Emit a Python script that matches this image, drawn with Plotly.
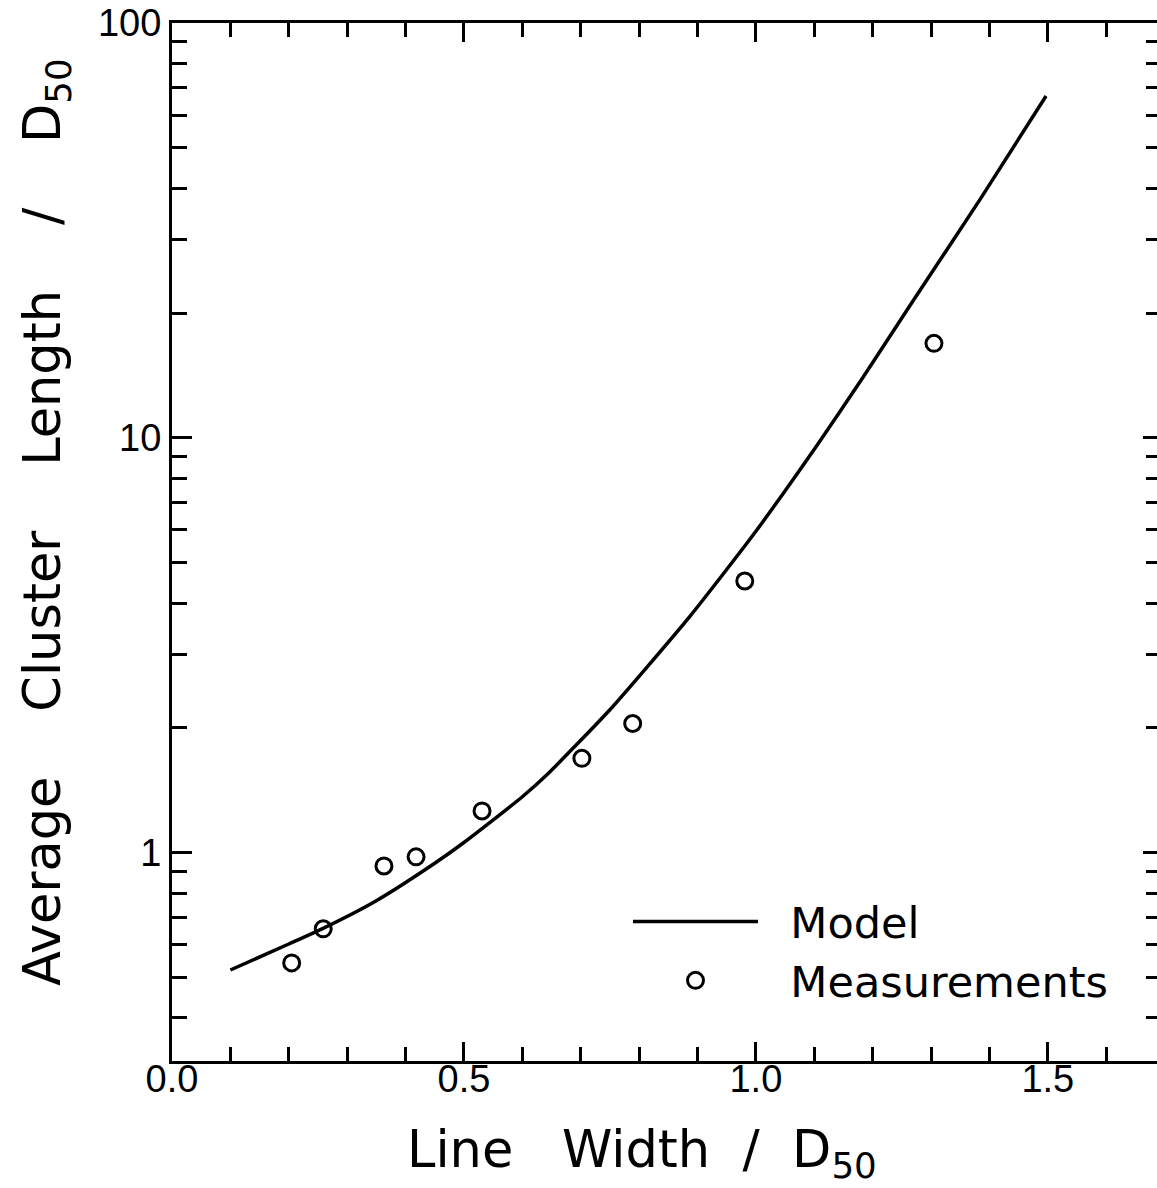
import math
import plotly.graph_objects as go

# Model curve
model_x = [0.10, 0.20, 0.257, 0.35, 0.45, 0.50, 0.60, 0.647, 0.75, 0.818, 0.887, 0.944, 1.0, 1.106, 1.183, 1.269, 1.384, 1.497]
model_y = [0.522, 0.603, 0.656, 0.767, 0.944, 1.059, 1.365, 1.567, 2.213, 2.851, 3.715, 4.699, 5.957, 9.66, 13.96, 21.38, 37.58, 66.68]

# Measurements
meas_x = [0.205, 0.259, 0.363, 0.418, 0.531, 0.702, 0.789, 0.981, 1.305]
meas_y = [0.543, 0.656, 0.93, 0.978, 1.262, 1.69, 2.05, 4.52, 16.9]

x_ticks = [0.0, 0.5, 1.0, 1.5]
x_ticktext = ["0.0", "0.5", "1.0", "1.5"]
y_ticks = [1, 10, 100]
y_ticktext = ["1", "10", "100"]

x_range = [0.0, 1.687]
y_range = [0.315, 100]

W, H = 1157, 1188
L, R, T, B = 172, 0, 23, 127
PW, PH = W - L - R, H - T - B

tick_font = dict(family="Liberation Sans, Arial, sans-serif", size=38, color="black")
title_font = dict(family="DejaVu Sans, sans-serif", size=51, color="black")
NB = "\u00a0"

fig = go.Figure()
fig.add_trace(go.Scatter(
    x=model_x, y=model_y, mode="lines", name=NB * 2 + "Model",
    line=dict(color="black", width=3.5, shape="spline", smoothing=0.6),
))
fig.add_trace(go.Scatter(
    x=meas_x, y=meas_y, mode="markers", name=NB * 2 + "Measurements",
    marker=dict(symbol="circle-open", size=16, color="black", line=dict(width=3, color="black")),
))
# empty helper trace so the right-hand tick axis is drawn
fig.add_trace(go.Scatter(x=[], y=[], yaxis="y2", showlegend=False, hoverinfo="skip"))

yrange_log = [math.log10(y_range[0]), math.log10(y_range[1])]

fig.update_layout(
    width=W, height=H,
    margin=dict(l=L, r=R, t=T, b=B, pad=0, autoexpand=False),
    paper_bgcolor="white", plot_bgcolor="white",
    showlegend=True,
    legend=dict(
        x=(628 - L) / PW, y=(H - B - 887) / PH,
        xanchor="left", yanchor="top",
        font=dict(family="DejaVu Sans, sans-serif", size=43, color="black"),
        bgcolor="rgba(0,0,0,0)", itemwidth=125, tracegroupgap=0,
    ),
    xaxis=dict(
        range=x_range, tickvals=x_ticks, ticktext=x_ticktext,
        ticks="inside", ticklen=19, tickwidth=3, tickcolor="black",
        showline=True, linewidth=3, linecolor="black", mirror="ticks",
        showgrid=False, zeroline=False, tickfont=tick_font, ticklabelstandoff=-18,
        minor=dict(dtick=0.1, ticks="inside", ticklen=14, tickwidth=3, tickcolor="black", showgrid=False),
    ),
    yaxis=dict(
        type="log", range=yrange_log,
        tickvals=y_ticks, ticktext=y_ticktext,
        ticks="inside", ticklen=20, tickwidth=3, tickcolor="black",
        showline=True, linewidth=3, linecolor="black", mirror=False,
        showgrid=False, zeroline=False, tickfont=tick_font,
        minor=dict(dtick="D1", ticks="inside", ticklen=15, tickwidth=3, tickcolor="black", showgrid=False),
    ),
    yaxis2=dict(
        type="log", range=yrange_log, overlaying="y", side="right", anchor="x",
        tickvals=y_ticks, showticklabels=False,
        ticks="inside", ticklen=14, tickwidth=3, tickcolor="black",
        showline=False, showgrid=False, zeroline=False,
        minor=dict(dtick="D1", ticks="inside", ticklen=11, tickwidth=3, tickcolor="black", showgrid=False),
    ),
)

fig.add_annotation(
    text=f"Line{NB*3}Width{NB*2}/{NB*2}D<sub>50</sub>",
    xref="paper", yref="paper",
    x=(642 - L) / PW, y=-(1153 - (H - B)) / PH,
    xanchor="center", yanchor="middle", showarrow=False, font=title_font,
)
fig.add_annotation(
    text=f"Average{NB*4}Cluster{NB*4}Length{NB*4}/{NB*4}D<sub>50</sub>",
    xref="paper", yref="paper",
    x=(46 - L) / PW, y=((H - B) - 522) / PH,
    xanchor="center", yanchor="middle", textangle=-90, showarrow=False, font=title_font,
)

fig.write_html("out.html")
